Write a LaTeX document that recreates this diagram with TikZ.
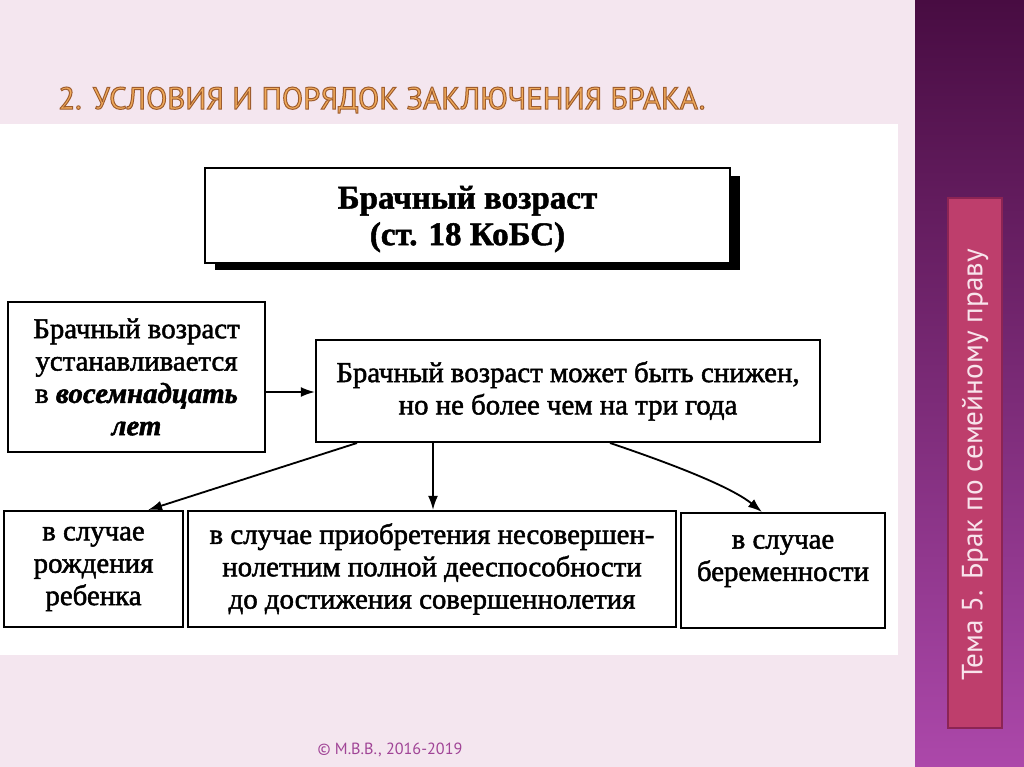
\documentclass[tikz,border=0pt]{standalone}
\usepackage{fontspec}
\setmainfont{Liberation Serif}
\newfontfamily\ptsans{PT Sans}
\usetikzlibrary{arrows.meta}
\definecolor{bgpink}{RGB}{244,230,239}
\definecolor{sidetop}{RGB}{72,12,66}
\definecolor{sidebot}{RGB}{172,72,170}
\definecolor{tabfill}{RGB}{190,62,108}
\definecolor{tabdraw}{RGB}{140,36,84}
\definecolor{tabtext}{RGB}{248,228,236}
\definecolor{titleor}{RGB}{240,170,90}
\definecolor{footc}{RGB}{160,68,150}
\newcommand{\outlinedtext}[1]{\special{pdf:literal direct 2 Tr 0.7 w 0.62 0.36 0.18 RG}#1\special{pdf:literal direct 0 Tr}}
\newcommand{\heavytext}[1]{\special{pdf:literal direct 2 Tr 0.35 w 0 G}#1\special{pdf:literal direct 0 Tr}}
\tikzset{
  boxn/.style={draw=black, line width=1.4pt, inner sep=0pt, align=center, fill=white},
  txt/.style={font=\fontsize{20.5}{23}\selectfont},
  arr/.style={line width=1.3pt, -{Latex[length=10pt,width=7pt]}}
}
\begin{document}
\begin{tikzpicture}[x=0.025cm,y=-0.025cm]
\useasboundingbox (0,0) rectangle (1024,767);
\fill[bgpink] (0,0) rectangle (1024,767);
\shade[top color=sidetop, bottom color=sidebot] (915,0) rectangle (1024,767);
\fill[white] (0,124) rectangle (898,655);
% title
\node[anchor=west, text=titleor, inner sep=0pt] (title) at (58,100)
  {\ptsans\fontsize{22}{22}\selectfont\outlinedtext{2. УСЛОВИЯ И ПОРЯДОК ЗАКЛЮЧЕНИЯ БРАКА.}};
% top box with shadow
\fill[black] (215,176) rectangle (740,270);
\node[boxn, minimum width=13.125cm, minimum height=2.375cm] (top) at (467.5,215.5) {};
\node[inner sep=0pt, align=center, font=\fontsize{23.5}{26}\selectfont\bfseries] (topt) at (467.5,219)
  {\heavytext{Брачный возраст\\(ст. 18 КоБС)}};
% left box
\node[boxn, txt, minimum width=6.425cm, minimum height=3.75cm] (left) at (136.5,377)
  {\heavytext{Брачный возраст\\устанавливается\\в \textbf{\textit{восемнадцать}}\\\textbf{\textit{лет}}}};
% middle box
\node[boxn, txt, minimum width=12.6cm, minimum height=2.55cm] (mid) at (568,391)
  {\heavytext{Брачный возраст может быть снижен,\\но не более чем на три года}};
% bottom boxes
\node[boxn, txt, minimum width=4.475cm, minimum height=2.9cm] (b1) at (93.5,569)
  {\heavytext{в случае\\рождения\\ребенка}};
\node[boxn, txt, minimum width=12.2cm, minimum height=2.9cm] (b2) at (432,569)
  {\heavytext{в случае приобретения несовершен-\\нолетним полной дееспособности\\до достижения совершеннолетия}};
\node[boxn, minimum width=5.1cm, minimum height=2.875cm] (b3) at (783,570.5) {};
\node[txt, align=center, inner sep=0pt] (b3t) at (783,561) {\heavytext{в случае\\беременности}};
% connector coordinates
\coordinate (a1) at (357,0);
\coordinate (t1) at (148,0);
\coordinate (a2) at (433,0);
\coordinate (a3) at (610,0);
\coordinate (t3) at (762,0);
\draw[arr] (left.east |- 0,392) -- (mid.west |- 0,392);
\draw[arr] (mid.south -| a1) -- (b1.north -| t1);
\draw[arr] (mid.south -| a2) -- (b2.north -| a2);
\draw[arr] (mid.south -| a3) .. controls (690,470) and (735,490) .. (b3.north -| t3);
% sidebar tab
\node[fill=tabfill, draw=tabdraw, line width=2pt, minimum width=1.35cm, minimum height=13.25cm, inner sep=0pt] (tab) at (975,463) {};
\node[rotate=90, text=tabtext, inner sep=0pt, font=\ptsans\fontsize{20.8}{20.8}\selectfont] (tabt) at (975,465)
  {Тема 5. Брак по семейному праву};
% footer
\node[text=footc, inner sep=0pt, font=\ptsans\fontsize{11.5}{11.5}\selectfont] (foot) at (390,750)
  {© М.В.В., 2016-2019};
\end{tikzpicture}
\end{document}
